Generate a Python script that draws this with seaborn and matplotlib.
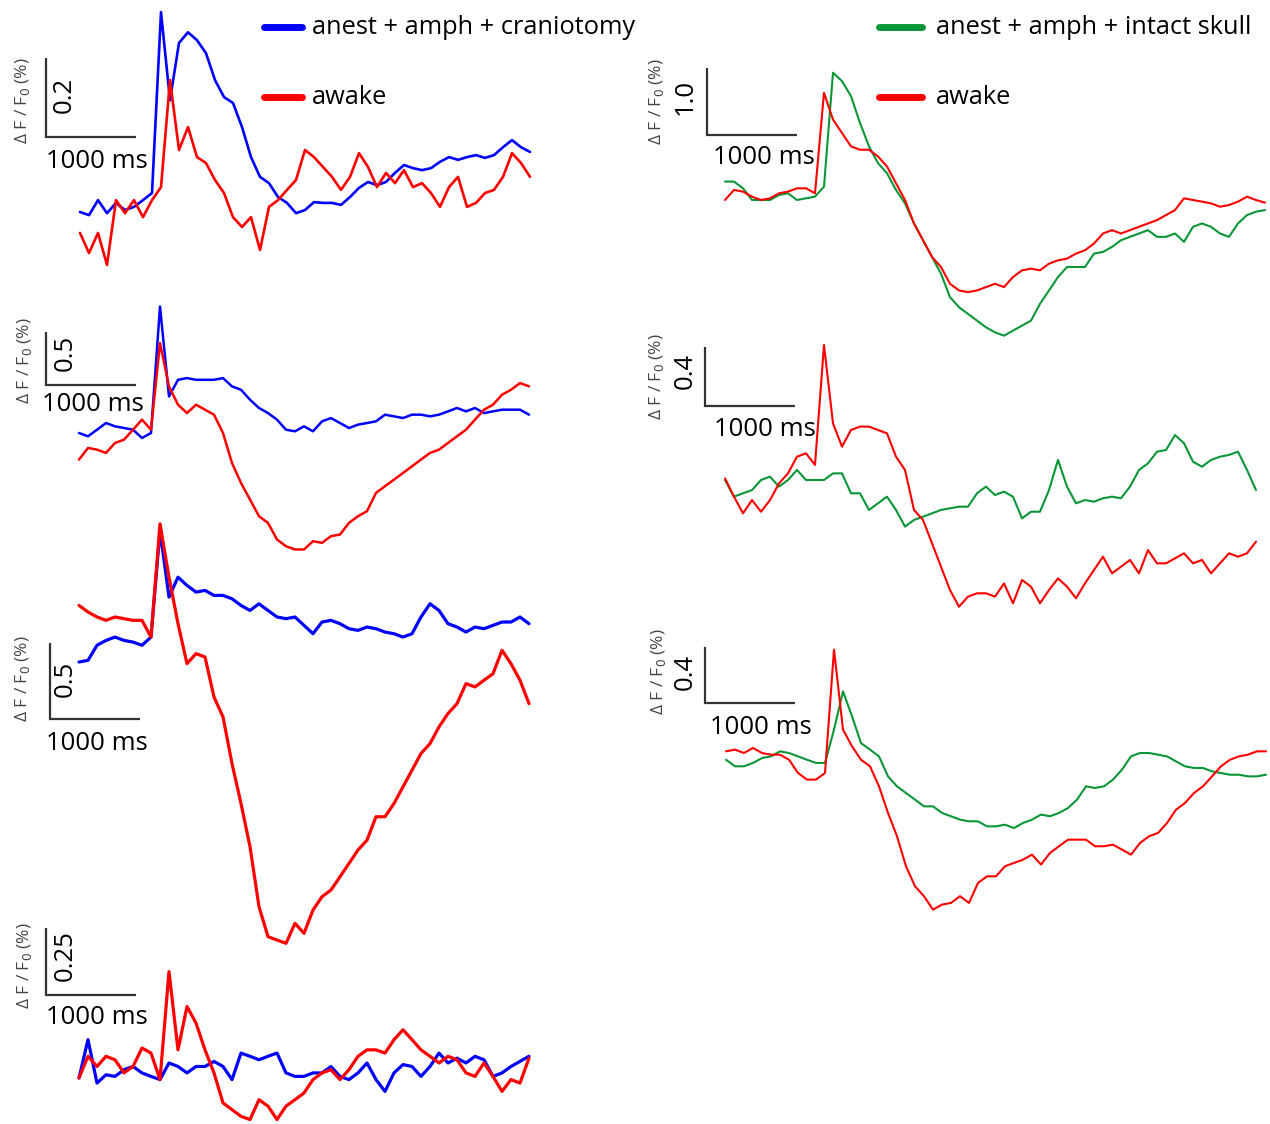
import numpy as np
import matplotlib
matplotlib.use("Agg")
import matplotlib.pyplot as plt
import seaborn as sns

sns.set_style("white")
plt.rcParams['font.family'] = ['Open Sans', 'DejaVu Sans']

W, H = 1270, 1124
STEP = 100  # ms between samples

# dF/F0 (%) traces, one value every 100 ms
L1_blue = [0.000, -0.008, 0.030, -0.003, 0.023, 0.005, 0.013, 0.030, 0.048, 0.506, 0.283, 0.428, 0.455, 0.435, 0.402, 0.334, 0.291, 0.276, 0.215, 0.139, 0.089, 0.073, 0.038, 0.023, -0.003, 0.005, 0.025, 0.023, 0.023, 0.018, 0.038, 0.061, 0.076, 0.068, 0.076, 0.099, 0.119, 0.111, 0.106, 0.111, 0.127, 0.139, 0.132, 0.139, 0.144, 0.137, 0.144, 0.164, 0.182, 0.164, 0.152]
L1_red = [-0.053, -0.104, -0.053, -0.134, 0.030, -0.003, 0.030, -0.013, 0.030, 0.063, 0.334, 0.157, 0.215, 0.139, 0.124, 0.081, 0.048, -0.013, -0.038, -0.013, -0.096, 0.013, 0.030, 0.056, 0.081, 0.157, 0.139, 0.114, 0.089, 0.056, 0.089, 0.149, 0.114, 0.063, 0.099, 0.073, 0.106, 0.063, 0.073, 0.048, 0.013, 0.063, 0.089, 0.013, 0.023, 0.048, 0.056, 0.089, 0.149, 0.124, 0.089]

L2_blue = [0.000, -0.031, 0.031, 0.094, 0.063, 0.047, 0.031, -0.047, 0.000, 1.193, 0.345, 0.502, 0.518, 0.502, 0.502, 0.502, 0.518, 0.440, 0.408, 0.314, 0.236, 0.188, 0.126, 0.031, 0.016, 0.063, 0.016, 0.110, 0.141, 0.094, 0.047, 0.079, 0.094, 0.110, 0.173, 0.157, 0.141, 0.173, 0.173, 0.157, 0.173, 0.204, 0.236, 0.204, 0.236, 0.188, 0.204, 0.220, 0.220, 0.220, 0.173]
L2_red = [-0.251, -0.141, -0.157, -0.188, -0.094, -0.063, 0.031, 0.126, 0.031, 0.848, 0.440, 0.267, 0.188, 0.267, 0.220, 0.173, 0.000, -0.283, -0.471, -0.628, -0.785, -0.848, -1.005, -1.068, -1.099, -1.099, -1.021, -1.036, -0.973, -0.958, -0.848, -0.785, -0.738, -0.565, -0.502, -0.440, -0.377, -0.314, -0.251, -0.188, -0.157, -0.094, -0.031, 0.031, 0.126, 0.220, 0.267, 0.361, 0.408, 0.471, 0.440]

L3_blue = [0.000, 0.011, 0.110, 0.142, 0.164, 0.142, 0.131, 0.110, 0.164, 0.865, 0.427, 0.558, 0.504, 0.460, 0.471, 0.438, 0.438, 0.416, 0.372, 0.339, 0.383, 0.339, 0.296, 0.285, 0.296, 0.241, 0.186, 0.263, 0.274, 0.252, 0.219, 0.208, 0.230, 0.219, 0.197, 0.186, 0.164, 0.186, 0.296, 0.383, 0.339, 0.252, 0.230, 0.197, 0.230, 0.219, 0.241, 0.263, 0.263, 0.296, 0.252]
L3_red = [0.372, 0.329, 0.296, 0.274, 0.296, 0.285, 0.274, 0.274, 0.164, 0.909, 0.558, 0.252, -0.011, 0.055, 0.033, -0.230, -0.361, -0.668, -0.931, -1.215, -1.610, -1.807, -1.829, -1.851, -1.719, -1.785, -1.632, -1.544, -1.500, -1.413, -1.325, -1.237, -1.172, -1.018, -1.018, -0.931, -0.821, -0.712, -0.602, -0.537, -0.427, -0.339, -0.274, -0.142, -0.164, -0.120, -0.077, 0.077, -0.011, -0.120, -0.274]

L4_blue = [0.000, 0.143, -0.019, 0.012, 0.006, 0.031, 0.043, 0.019, 0.006, -0.006, 0.056, 0.043, 0.019, 0.043, 0.043, 0.062, 0.043, -0.006, 0.093, 0.081, 0.068, 0.081, 0.093, 0.019, 0.006, 0.006, 0.019, 0.019, 0.043, 0.006, -0.006, 0.019, 0.056, -0.006, -0.050, 0.019, 0.050, 0.043, 0.006, 0.043, 0.093, 0.056, 0.074, 0.056, 0.081, 0.068, 0.006, 0.019, 0.043, 0.062, 0.081]
L4_red = [0.000, 0.081, 0.043, 0.081, 0.068, 0.019, 0.043, 0.112, 0.093, -0.006, 0.397, 0.105, 0.267, 0.205, 0.105, 0.019, -0.093, -0.118, -0.143, -0.155, -0.081, -0.105, -0.155, -0.105, -0.081, -0.056, -0.006, 0.019, 0.031, -0.006, 0.031, 0.081, 0.105, 0.105, 0.093, 0.143, 0.180, 0.143, 0.105, 0.081, 0.056, 0.081, 0.068, 0.019, 0.006, 0.056, 0.006, -0.050, -0.006, -0.019, 0.074]

R1_green = [0.275, 0.275, 0.175, 0.000, 0.000, 0.000, 0.075, 0.100, 0.000, 0.025, 0.050, 0.200, 1.900, 1.775, 1.550, 1.150, 0.800, 0.550, 0.400, 0.150, -0.050, -0.350, -0.600, -0.850, -1.100, -1.450, -1.600, -1.700, -1.800, -1.900, -1.975, -2.025, -1.950, -1.875, -1.800, -1.550, -1.350, -1.150, -1.000, -1.000, -1.000, -0.800, -0.775, -0.700, -0.600, -0.550, -0.500, -0.450, -0.550, -0.550, -0.500, -0.625, -0.400, -0.350, -0.400, -0.500, -0.550, -0.350, -0.225, -0.175, -0.150]
R1_red = [0.000, 0.150, 0.125, 0.050, 0.000, 0.025, 0.100, 0.125, 0.175, 0.175, 0.100, 1.600, 1.200, 1.000, 0.800, 0.750, 0.750, 0.650, 0.500, 0.250, 0.000, -0.350, -0.600, -0.850, -1.000, -1.250, -1.350, -1.375, -1.350, -1.300, -1.250, -1.300, -1.150, -1.050, -1.025, -1.050, -0.950, -0.900, -0.875, -0.800, -0.750, -0.650, -0.500, -0.450, -0.500, -0.450, -0.400, -0.350, -0.300, -0.225, -0.150, 0.025, 0.000, -0.025, -0.050, -0.100, -0.075, -0.025, 0.050, 0.000, -0.040]

R2_green = [0.000, -0.113, -0.090, -0.068, 0.000, 0.023, -0.045, 0.000, 0.068, 0.000, 0.000, 0.000, 0.045, 0.045, -0.090, -0.090, -0.203, -0.158, -0.113, -0.203, -0.316, -0.271, -0.249, -0.226, -0.203, -0.192, -0.181, -0.181, -0.090, -0.045, -0.102, -0.079, -0.113, -0.260, -0.215, -0.215, -0.068, 0.136, -0.045, -0.158, -0.136, -0.147, -0.124, -0.113, -0.124, -0.045, 0.068, 0.113, 0.192, 0.203, 0.305, 0.249, 0.124, 0.090, 0.136, 0.158, 0.170, 0.192, 0.068, -0.068]
R2_red = [0.011, -0.113, -0.226, -0.136, -0.215, -0.136, -0.023, 0.045, 0.158, 0.181, 0.102, 0.915, 0.384, 0.226, 0.339, 0.362, 0.362, 0.339, 0.316, 0.158, 0.068, -0.203, -0.271, -0.429, -0.588, -0.746, -0.859, -0.791, -0.768, -0.768, -0.791, -0.701, -0.836, -0.678, -0.723, -0.836, -0.746, -0.667, -0.723, -0.802, -0.701, -0.610, -0.520, -0.633, -0.588, -0.542, -0.633, -0.475, -0.565, -0.565, -0.531, -0.497, -0.565, -0.542, -0.633, -0.565, -0.497, -0.520, -0.497, -0.418]

R3_green = [-0.048, -0.095, -0.095, -0.071, -0.036, -0.024, 0.012, 0.000, -0.024, -0.048, -0.071, -0.071, 0.167, 0.440, 0.262, 0.071, 0.024, -0.024, -0.167, -0.238, -0.286, -0.333, -0.381, -0.381, -0.428, -0.452, -0.476, -0.488, -0.488, -0.524, -0.524, -0.512, -0.536, -0.500, -0.476, -0.440, -0.452, -0.428, -0.393, -0.333, -0.238, -0.250, -0.238, -0.190, -0.119, -0.024, 0.000, 0.000, -0.012, -0.024, -0.060, -0.095, -0.107, -0.107, -0.131, -0.143, -0.155, -0.155, -0.167, -0.167, -0.155]
R3_red = [0.012, 0.024, 0.000, 0.036, 0.000, -0.012, -0.012, -0.048, -0.143, -0.190, -0.190, -0.143, 0.738, 0.167, 0.048, -0.048, -0.095, -0.238, -0.428, -0.595, -0.809, -0.952, -1.023, -1.119, -1.083, -1.071, -1.023, -1.071, -0.928, -0.881, -0.881, -0.809, -0.785, -0.762, -0.726, -0.797, -0.714, -0.666, -0.619, -0.619, -0.619, -0.666, -0.666, -0.655, -0.690, -0.726, -0.643, -0.595, -0.571, -0.500, -0.405, -0.357, -0.286, -0.238, -0.167, -0.095, -0.048, -0.024, -0.012, 0.012, 0.012]

scale_values = [0.2, 0.5, 0.5, 0.25, 1.0, 0.4, 0.4]
scale_labels = ["0.2", "0.5", "0.5", "0.25", "1.0", "0.4", "0.4"]
legend_left = ["anest + amph + craniotomy", "awake"]
legend_right = ["anest + amph + intact skull", "awake"]

BLUE, RED, GREEN = "#0000ff", "#ff0000", "#0a9637"
GREY = "#333333"

# layout of each panel in figure pixels: origin (t=0, value 0), px per unit,
# scale-bar corner, label positions
panels = [
    dict(x0=80, y0=212, ppu=395, bar=(46, 137), txt=(64, 95), dff=(22, 101), ms=(97, 161),
         traces=[(L1_blue, BLUE), (L1_red, RED)], lw=1.9),
    dict(x0=79, y0=433, ppu=106, bar=(46, 385), txt=(65, 353), dff=(24, 361), ms=(93, 404),
         traces=[(L2_blue, BLUE), (L2_red, RED)], lw=1.8),
    dict(x0=79, y0=662, ppu=152, bar=(50, 719), txt=(65, 679), dff=(23, 679), ms=(97, 744),
         traces=[(L3_blue, BLUE), (L3_red, RED)], lw=2.3),
    dict(x0=79, y0=1078, ppu=268, bar=(46, 995), txt=(65, 956), dff=(24, 966), ms=(97, 1018),
         traces=[(L4_blue, BLUE), (L4_red, RED)], lw=2.3),
    dict(x0=725, y0=200, ppu=67, bar=(707, 135), txt=(685, 97), dff=(656, 102), ms=(764, 158),
         traces=[(R1_green, GREEN), (R1_red, RED)], lw=1.5),
    dict(x0=725, y0=480, ppu=147.5, bar=(705, 406), txt=(685, 371), dff=(657, 377), ms=(765, 429),
         traces=[(R2_green, GREEN), (R2_red, RED)], lw=1.5),
    dict(x0=726, y0=753, ppu=140, bar=(705, 703), txt=(685, 672), dff=(658, 672), ms=(761, 727),
         traces=[(R3_green, GREEN), (R3_red, RED)], lw=1.5),
]
PPMS = 0.09  # px per ms

fig = plt.figure(figsize=(W / 100, H / 100), dpi=100)


def fx(x):
    return x / W


def fy(y):
    return 1 - y / H


for p, sv, sl in zip(panels, scale_values, scale_labels):
    ax = fig.add_axes([0, 0, 1, 1])
    ax.set_xlim(-p["x0"] / PPMS, (W - p["x0"]) / PPMS)
    ax.set_ylim((p["y0"] - H) / p["ppu"], p["y0"] / p["ppu"])
    ax.axis("off")
    ax.patch.set_alpha(0)
    for vals, col in p["traces"]:
        t = np.arange(len(vals)) * STEP
        sns.lineplot(x=t, y=vals, ax=ax, color=col, linewidth=p["lw"],
                     estimator=None, sort=False, legend=False)
    # scale bar
    tc = (p["bar"][0] - p["x0"]) / PPMS
    vc = (p["y0"] - p["bar"][1]) / p["ppu"]
    ax.plot([tc, tc, tc + 1000], [vc + sv, vc, vc], color=GREY, lw=1.6,
            solid_joinstyle="miter", solid_capstyle="butt")
    fig.text(fx(p["txt"][0]), fy(p["txt"][1]), sl, rotation=90, ha="center",
             va="center", fontsize=18.5, color="black")
    fig.text(fx(p["ms"][0]), fy(p["ms"][1]), "1000 ms", ha="center",
             va="center", fontsize=18.5, color="black")
    fig.text(fx(p["dff"][0]), fy(p["dff"][1]), "Δ F / F$_0$ (%)", rotation=90,
             ha="center", va="center", fontsize=12.5, color="#444444")

# legends
for (x1, x2, xt), labels, col in [((264, 302, 312), legend_left, BLUE),
                                  ((879, 922, 936), legend_right, GREEN)]:
    for (y, lab, c) in [(27, labels[0], col), (97, labels[1], RED)]:
        fig.add_artist(plt.Line2D([fx(x1), fx(x2)], [fy(y), fy(y)], color=c, lw=5))
        fig.text(fx(xt), fy(y), lab, ha="left", va="center", fontsize=18.3, color="black")

fig.savefig("out.png", dpi=100)
